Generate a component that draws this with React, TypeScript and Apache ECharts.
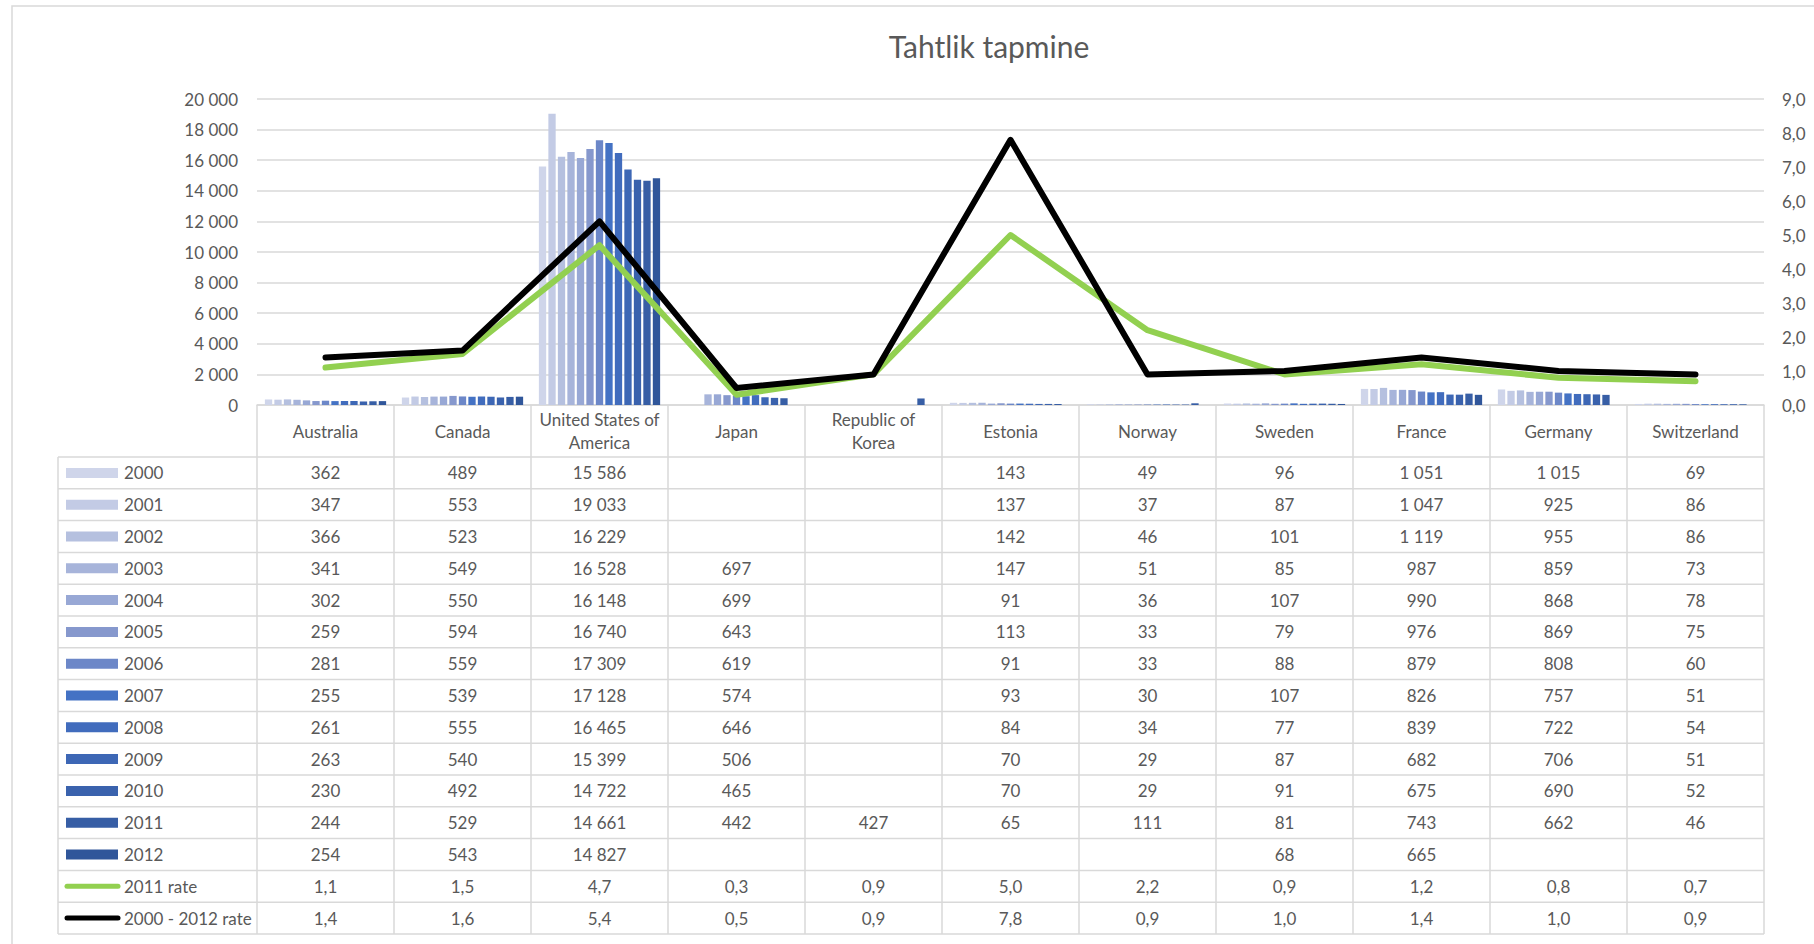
import React, { useEffect, useRef } from 'react';
import * as echarts from 'echarts';

const categories = [
  'Australia', 'Canada', 'United States of America', 'Japan', 'Republic of Korea',
  'Estonia', 'Norway', 'Sweden', 'France', 'Germany', 'Switzerland',
];
const years = ['2000', '2001', '2002', '2003', '2004', '2005', '2006', '2007', '2008', '2009', '2010', '2011', '2012'];

const v2000 = [362, 489, 15586, null, null, 143, 49, 96, 1051, 1015, 69];
const v2001 = [347, 553, 19033, null, null, 137, 37, 87, 1047, 925, 86];
const v2002 = [366, 523, 16229, null, null, 142, 46, 101, 1119, 955, 86];
const v2003 = [341, 549, 16528, 697, null, 147, 51, 85, 987, 859, 73];
const v2004 = [302, 550, 16148, 699, null, 91, 36, 107, 990, 868, 78];
const v2005 = [259, 594, 16740, 643, null, 113, 33, 79, 976, 869, 75];
const v2006 = [281, 559, 17309, 619, null, 91, 33, 88, 879, 808, 60];
const v2007 = [255, 539, 17128, 574, null, 93, 30, 107, 826, 757, 51];
const v2008 = [261, 555, 16465, 646, null, 84, 34, 77, 839, 722, 54];
const v2009 = [263, 540, 15399, 506, null, 70, 29, 87, 682, 706, 51];
const v2010 = [230, 492, 14722, 465, null, 70, 29, 91, 675, 690, 52];
const v2011 = [244, 529, 14661, 442, 427, 65, 111, 81, 743, 662, 46];
const v2012 = [254, 543, 14827, null, null, null, null, 68, 665, null, null];

const rate2011 = [1.1, 1.5, 4.7, 0.3, 0.9, 5.0, 2.2, 0.9, 1.2, 0.8, 0.7];
const rate2000to2012 = [1.4, 1.6, 5.4, 0.5, 0.9, 7.8, 0.9, 1.0, 1.4, 1.0, 0.9];

const yearValues = [v2000, v2001, v2002, v2003, v2004, v2005, v2006, v2007, v2008, v2009, v2010, v2011, v2012];
const rateNames = ['2011 rate', '2000 - 2012 rate'];

const countLeftMin = 0;
const countLeftMax = 20000;
const countLeftStep = 2000;
const rateMin = 0;
const rateMax = 9;
const rateStep = 1;

const barColors = [
  '#cfd5ea', '#c3cbe5', '#b5c0df', '#a7b4da', '#98a8d5', '#8698cd', '#6c87c8',
  '#4472c4', '#416cbd', '#3d67b5', '#3a62ad', '#375ea5', '#30569a',
];
const lineColors = ['#92d050', '#000000'];

const TEXT = '#595959';
const GRIDC = '#d9d9d9';
const FONT = 'Lato';
const FS = 17;

const W = 1814;
const H = 944;
const plotLeft = 257;
const plotRight = 1764;
const plotTop = 99;
const plotBottom = 405;
const headerBottom = 457;
const rowH = 31.8;
const tableLeft = 58;

const fmtInt = (n: number) => String(n).replace(/\B(?=(\d{3})+(?!\d))/g, ' ');
const fmtDec = (n: number) => n.toFixed(1).replace('.', ',');
const wrapName = (s: string) => s.replace('United States of ', 'United States of\n').replace('Republic of ', 'Republic of\n');

function buildTable() {
  const els: any[] = [];
  const nRows = years.length + rateNames.length;
  const colW = (plotRight - plotLeft) / categories.length;
  const tableBottom = headerBottom + nRows * rowH;
  const line = (x1: number, y1: number, x2: number, y2: number) => ({
    type: 'line',
    silent: true,
    shape: { x1, y1, x2, y2 },
    style: { stroke: GRIDC, lineWidth: 1.5 },
  });
  const text = (t: string, x: number, y: number, align: string) => ({
    type: 'text',
    silent: true,
    style: {
      text: t, x, y,
      fill: TEXT,
      font: `${FS}px ${FONT}`,
      align, verticalAlign: 'middle',
      textAlign: align, textVerticalAlign: 'middle',
    },
  });
  els.push({
    type: 'rect', silent: true,
    shape: { x: 12, y: 6, width: W + 100, height: H + 100 },
    style: { fill: 'none', stroke: GRIDC, lineWidth: 1.5 },
  });
  for (let r = 0; r <= nRows; r++) {
    const y = headerBottom + r * rowH;
    els.push(line(tableLeft, y, plotRight, y));
  }
  els.push(line(tableLeft, headerBottom, tableLeft, tableBottom));
  for (let c = 0; c <= categories.length; c++) {
    const x = plotLeft + c * colW;
    els.push(line(x, headerBottom, x, tableBottom));
  }
  const rowLabels = [...years, ...rateNames];
  rowLabels.forEach((lab, r) => {
    const cy = headerBottom + (r + 0.5) * rowH;
    if (r < years.length) {
      els.push({
        type: 'rect', silent: true,
        shape: { x: 66, y: cy - 5, width: 52, height: 10 },
        style: { fill: barColors[r] },
      });
    } else {
      els.push({
        type: 'line', silent: true,
        shape: { x1: 67, y1: cy, x2: 118, y2: cy },
        style: { stroke: lineColors[r - years.length], lineWidth: 5, lineCap: 'round' },
      });
    }
    els.push(text(lab, 124, cy, 'left'));
    for (let c = 0; c < categories.length; c++) {
      const cx = plotLeft + (c + 0.5) * colW;
      let t = '';
      if (r < years.length) {
        const v = yearValues[r][c];
        if (v != null) t = fmtInt(v);
      } else {
        const arr = r === years.length ? rate2011 : rate2000to2012;
        t = fmtDec(arr[c]);
      }
      if (t) els.push(text(t, cx, cy, 'center'));
    }
  });
  return els;
}

export default function App() {
  const ref = useRef<HTMLDivElement>(null);
  useEffect(() => {
    document.body.style.margin = '0';
    document.body.style.overflow = 'hidden';
    const chart = echarts.init(ref.current!, undefined, { renderer: 'svg' });
    const barSeries = years.map((y, i) => ({
      name: y,
      type: 'bar',
      data: yearValues[i],
      itemStyle: { color: barColors[i] },
      barGap: '30%',
      barCategoryGap: '11.5%',
      yAxisIndex: 0,
    }));
    const lineSeries = [rate2011, rate2000to2012].map((d, i) => ({
      name: rateNames[i],
      type: 'line',
      data: d,
      yAxisIndex: 1,
      symbol: 'none',
      lineStyle: { color: lineColors[i], width: 6, cap: 'round', join: 'round' },
      itemStyle: { color: lineColors[i] },
      z: 3,
    }));
    chart.setOption({
      animation: false,
      textStyle: { fontFamily: FONT },
      title: {
        text: 'Tahtlik tapmine',
        left: 984,
        textAlign: 'center',
        top: 26,
        textStyle: { fontFamily: FONT, fontSize: 30, fontWeight: 'normal', color: TEXT },
      },
      grid: {
        left: plotLeft,
        right: W - plotRight,
        top: plotTop,
        bottom: H - plotBottom,
        containLabel: false,
      },
      xAxis: {
        type: 'category',
        data: categories,
        axisLine: { lineStyle: { color: GRIDC, width: 1.5 } },
        axisTick: { show: true, interval: 0, length: headerBottom - plotBottom, lineStyle: { color: GRIDC, width: 1.5 } },
        axisLabel: {
          interval: 0,
          margin: 26,
          verticalAlign: 'middle',
          lineHeight: 23,
          fontSize: FS,
          color: TEXT,
          fontFamily: FONT,
          formatter: (v: string) => wrapName(v),
        },
      },
      yAxis: [
        {
          type: 'value',
          min: countLeftMin,
          max: countLeftMax,
          interval: countLeftStep,
          axisLine: { show: false },
          axisTick: { show: false },
          splitLine: { lineStyle: { color: GRIDC, width: 1.5 } },
          axisLabel: { margin: 19, fontSize: FS, color: TEXT, fontFamily: FONT, formatter: (v: number) => fmtInt(v) },
        },
        {
          type: 'value',
          min: rateMin,
          max: rateMax,
          interval: rateStep,
          position: 'right',
          axisLine: { show: false },
          axisTick: { show: false },
          splitLine: { show: false },
          axisLabel: { margin: 18, fontSize: FS, color: TEXT, fontFamily: FONT, formatter: (v: number) => fmtDec(v) },
        },
      ],
      series: [...barSeries, ...lineSeries],
      graphic: buildTable(),
    });
    return () => chart.dispose();
  }, []);
  return <div ref={ref} style={{ width: W, height: H }} />;
}
